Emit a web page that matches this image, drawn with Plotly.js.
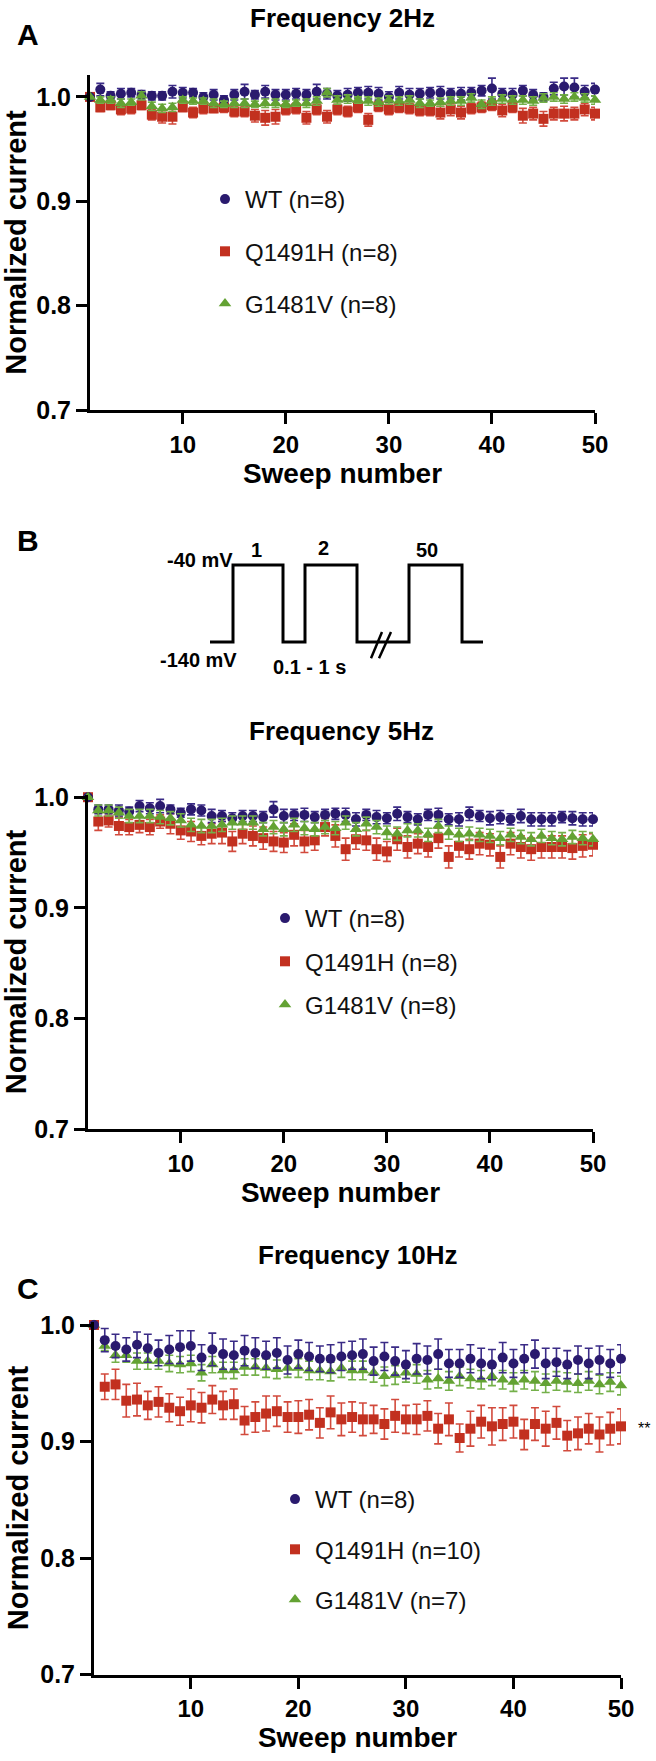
<!DOCTYPE html>
<html>
<head>
<meta charset="utf-8">
<script src="https://cdn.plot.ly/plotly-3.0.1.min.js"></script>
<style>html,body{margin:0;padding:0;background:#fff}#chart{width:656px;height:1761px}</style>
</head>
<body>
<div id="chart"></div>
<script>
// ---------- data ----------
const sweeps = Array.from({length: 50}, (_, i) => i + 1);
const xTicks = [10, 20, 30, 40, 50];
const yTicks = [0.7, 0.8, 0.9, 1.0];
const seriesNames = ['WT (n=8)', 'Q1491H (n=8)', 'G1481V (n=8)'];
const seriesNamesC = ['WT (n=8)', 'Q1491H (n=10)', 'G1481V (n=7)'];
const panelTitles = ['Frequency 2Hz', 'Frequency 5Hz', 'Frequency 10Hz'];

// Panel A : 2 Hz
const wtA = [1.000,1.007,1.001,1.003,1.004,1.002,1.001,1.001,1.005,1.004, 1.004,1.000,1.002,0.997,1.002,1.005,1.002,1.005,1.002,1.002,
             1.003,1.002,1.005,1.003,1.001,1.002,1.004,1.004,1.003,1.000, 1.004,1.002,1.003,1.004,1.004,1.003,1.003,1.004,1.006,1.008,
             1.003,1.002,1.006,1.002,1.000,1.008,1.010,1.009,1.005,1.007];
const wtAerr = [0,0.006,0.004,0.005,0.004,0.004,0.004,0.004,0.006,0.005, 0.004,0.004,0.005,0.004,0.005,0.007,0.004,0.006,0.005,0.005,
                0.005,0.005,0.007,0.005,0.005,0.006,0.005,0.006,0.006,0.005, 0.006,0.006,0.005,0.005,0.006,0.005,0.006,0.005,0.005,0.010,
                0.005,0.006,0.005,0.005,0.004,0.006,0.008,0.009,0.006,0.006];
const qA = [1.000,0.990,0.992,0.988,0.989,0.992,0.983,0.981,0.981,0.990, 0.985,0.989,0.989,0.990,0.986,0.986,0.982,0.980,0.981,0.988,
            0.989,0.980,0.988,0.981,0.988,0.986,0.990,0.978,0.991,0.988, 0.990,0.989,0.987,0.987,0.985,0.988,0.985,0.989,0.990,0.992,
            0.987,0.990,0.982,0.984,0.979,0.984,0.984,0.984,0.988,0.984];
const qAerr = [0,0.004,0.004,0.005,0.005,0.004,0.005,0.006,0.007,0.004, 0.005,0.005,0.004,0.005,0.005,0.005,0.006,0.007,0.007,0.005,
               0.005,0.006,0.005,0.006,0.005,0.005,0.005,0.006,0.005,0.005, 0.005,0.005,0.005,0.005,0.006,0.006,0.006,0.005,0.005,0.005,
               0.006,0.005,0.007,0.006,0.007,0.006,0.007,0.006,0.006,0.006];
const gA = [1.000,0.997,0.997,0.994,0.995,1.001,0.991,0.989,0.990,0.997, 0.996,0.996,0.994,0.993,0.994,0.994,0.993,0.994,0.994,0.993,
            0.994,0.994,0.996,1.004,0.997,0.998,0.997,0.996,0.995,0.997, 0.996,0.997,0.994,0.994,0.995,0.996,0.996,0.999,0.993,0.996,
            0.998,0.997,0.997,0.996,0.999,1.000,0.998,1.000,0.999,0.997];
const gAerr = [0,0.003,0.003,0.004,0.003,0.004,0.004,0.004,0.004,0.003, 0.003,0.003,0.004,0.003,0.004,0.004,0.003,0.004,0.004,0.003,
               0.003,0.004,0.004,0.004,0.004,0.004,0.003,0.004,0.004,0.004, 0.004,0.004,0.004,0.003,0.004,0.004,0.004,0.004,0.004,0.004,
               0.004,0.004,0.004,0.004,0.004,0.004,0.004,0.004,0.004,0.004];

// Panel B : 5 Hz
const wtB = [1.000,0.989,0.989,0.988,0.987,0.992,0.990,0.992,0.989,0.986, 0.989,0.988,0.983,0.983,0.981,0.983,0.983,0.982,0.989,0.983,
             0.984,0.984,0.982,0.984,0.985,0.984,0.980,0.984,0.982,0.981, 0.985,0.982,0.980,0.984,0.984,0.980,0.980,0.985,0.983,0.981,
             0.982,0.980,0.983,0.980,0.980,0.980,0.982,0.981,0.980,0.980];
const wtBerr = [0,0.004,0.004,0.005,0.004,0.005,0.005,0.006,0.004,0.004, 0.005,0.005,0.006,0.005,0.005,0.005,0.005,0.005,0.007,0.006,
                0.005,0.006,0.005,0.005,0.005,0.006,0.006,0.005,0.006,0.005, 0.006,0.005,0.005,0.005,0.006,0.005,0.006,0.006,0.005,0.006,
                0.006,0.005,0.006,0.006,0.006,0.006,0.005,0.006,0.006,0.006];
const qB = [1.000,0.978,0.979,0.974,0.973,0.975,0.973,0.978,0.976,0.970, 0.969,0.965,0.967,0.968,0.960,0.967,0.965,0.963,0.960,0.959,
            0.966,0.960,0.961,0.973,0.965,0.953,0.962,0.961,0.953,0.951, 0.962,0.955,0.958,0.955,0.963,0.946,0.956,0.953,0.958,0.957,
            0.946,0.958,0.955,0.953,0.955,0.955,0.955,0.954,0.956,0.957];
const qBerr = [0,0.008,0.006,0.008,0.007,0.007,0.007,0.006,0.009,0.008, 0.009,0.008,0.009,0.010,0.009,0.009,0.009,0.010,0.009,0.009,
               0.010,0.010,0.009,0.008,0.010,0.010,0.009,0.009,0.010,0.009, 0.010,0.010,0.009,0.009,0.009,0.010,0.010,0.009,0.010,0.010,
               0.010,0.010,0.010,0.010,0.010,0.010,0.010,0.010,0.010,0.010];
const gB = [1.000,0.988,0.988,0.986,0.983,0.983,0.983,0.982,0.981,0.979, 0.975,0.974,0.974,0.975,0.977,0.977,0.977,0.971,0.973,0.971,
            0.975,0.972,0.971,0.973,0.972,0.977,0.971,0.976,0.973,0.968, 0.967,0.970,0.970,0.966,0.974,0.968,0.966,0.967,0.966,0.965,
            0.963,0.966,0.964,0.962,0.965,0.963,0.962,0.964,0.963,0.962];
const gBerr = [0,0.005,0.005,0.005,0.006,0.006,0.006,0.006,0.006,0.006, 0.006,0.006,0.006,0.006,0.006,0.006,0.006,0.006,0.006,0.006,
               0.006,0.006,0.006,0.006,0.006,0.006,0.006,0.006,0.006,0.006, 0.006,0.006,0.006,0.006,0.006,0.006,0.006,0.006,0.006,0.006,
               0.006,0.006,0.006,0.006,0.006,0.006,0.006,0.006,0.006,0.006];

// Panel C : 10 Hz
const wtC = [1.000,0.987,0.982,0.979,0.983,0.980,0.976,0.979,0.981,0.982, 0.972,0.979,0.975,0.974,0.978,0.976,0.974,0.976,0.970,0.975,
             0.973,0.971,0.971,0.973,0.974,0.975,0.969,0.973,0.969,0.966, 0.971,0.970,0.975,0.967,0.967,0.971,0.967,0.966,0.972,0.967,
             0.971,0.975,0.967,0.968,0.966,0.970,0.967,0.970,0.967,0.971];
const wtCerr = [0,0.010,0.010,0.010,0.011,0.012,0.011,0.012,0.014,0.013, 0.011,0.014,0.013,0.012,0.013,0.013,0.012,0.013,0.012,0.012,
                0.012,0.011,0.012,0.012,0.012,0.013,0.012,0.012,0.012,0.012, 0.013,0.012,0.013,0.012,0.012,0.012,0.013,0.013,0.013,0.012,
                0.012,0.012,0.013,0.012,0.012,0.012,0.013,0.012,0.012,0.012];
const qC = [1.000,0.947,0.949,0.935,0.936,0.931,0.934,0.929,0.926,0.931, 0.929,0.936,0.931,0.932,0.918,0.921,0.924,0.926,0.921,0.921,
            0.923,0.916,0.925,0.919,0.921,0.919,0.919,0.915,0.922,0.919, 0.919,0.922,0.911,0.919,0.903,0.911,0.917,0.913,0.915,0.917,
            0.906,0.915,0.911,0.916,0.905,0.907,0.911,0.906,0.911,0.913];
const qCerr = [0,0.011,0.013,0.014,0.014,0.012,0.013,0.012,0.012,0.014, 0.013,0.012,0.012,0.013,0.012,0.013,0.015,0.013,0.013,0.014,
               0.013,0.013,0.014,0.014,0.013,0.014,0.012,0.013,0.014,0.012, 0.013,0.013,0.013,0.014,0.012,0.015,0.014,0.016,0.014,0.014,
               0.013,0.014,0.015,0.014,0.013,0.014,0.013,0.015,0.014,0.015];
const gC = [1.000,0.982,0.974,0.974,0.969,0.969,0.969,0.967,0.966,0.967, 0.959,0.966,0.961,0.961,0.964,0.964,0.963,0.962,0.963,0.963,
            0.961,0.961,0.960,0.963,0.961,0.961,0.959,0.956,0.957,0.959, 0.958,0.953,0.954,0.952,0.956,0.954,0.953,0.956,0.953,0.951,
            0.953,0.952,0.950,0.952,0.951,0.950,0.952,0.949,0.951,0.948];
const gCerr = [0,0.004,0.006,0.006,0.007,0.007,0.007,0.007,0.007,0.007, 0.007,0.007,0.007,0.007,0.007,0.007,0.008,0.008,0.008,0.008,
               0.008,0.008,0.008,0.008,0.008,0.008,0.008,0.008,0.008,0.008, 0.008,0.008,0.008,0.008,0.008,0.008,0.008,0.008,0.008,0.008,
               0.008,0.008,0.008,0.008,0.008,0.008,0.008,0.008,0.008,0.008];

// Protocol schematic (panel B)
const protoTime = [0, 23, 23, 73, 73, 95, 95, 147, 147, 199, 199, 252, 252, 273];
const protoVolt = [-140, -140, -40, -40, -140, -140, -40, -40, -140, -140, -40, -40, -140, -140];
const breakTime = [161, 172, null, 169, 181];
const breakVolt = [-161, -127, null, -161, -127];

// ---------- styling ----------
const FONT = 'Liberation Sans, Arial, Helvetica, sans-serif';
const W = 656, H = 1761;
const px = v => v / W;
const py = v => 1 - v / H;
const COL = {wt: '#2a1a6e', q: '#c2301f', g: '#63a233'};
const ECOL = {wt: '#3a2b86', q: '#d24a3c', g: '#74b04a'};

function series(x, y, err, key, name, sym, xa, ya, leg, rank) {
  return {
    type: 'scatter', mode: 'markers', x: x, y: y, name: name,
    xaxis: xa, yaxis: ya, legend: leg, legendgroup: leg + key, legendrank: rank,
    cliponaxis: false,
    marker: {symbol: sym, size: sym === 'triangle-up' ? 11 : 10, color: COL[key], line: {width: 0}},
    error_y: {type: 'data', array: err, visible: true, color: ECOL[key], thickness: 1.6, width: 4}
  };
}

const traces = [];
const panels = [
  {xa: 'x', ya: 'y', leg: 'legend', wt: [wtA, wtAerr], q: [qA, qAerr], g: [gA, gAerr], names: seriesNames, order: ['q', 'wt', 'g']},
  {xa: 'x2', ya: 'y2', leg: 'legend2', wt: [wtB, wtBerr], q: [qB, qBerr], g: [gB, gBerr], names: seriesNames, order: ['q', 'wt', 'g']},
  {xa: 'x3', ya: 'y3', leg: 'legend3', wt: [wtC, wtCerr], q: [qC, qCerr], g: [gC, gCerr], names: seriesNamesC, order: ['g', 'q', 'wt']}
];
const symOf = {wt: 'circle', q: 'square', g: 'triangle-up'};
const idxOf = {wt: 0, q: 1, g: 2};
panels.forEach(p => {
  p.order.forEach(k => {
    traces.push(series(sweeps, p[k][0], p[k][1], k, p.names[idxOf[k]], symOf[k], p.xa, p.ya, p.leg, idxOf[k] + 1));
  });
});

traces.push({type: 'scatter', mode: 'lines', x: protoTime, y: protoVolt, xaxis: 'x4', yaxis: 'y4',
  line: {color: '#000', width: 3, shape: 'linear'}, showlegend: false, hoverinfo: 'skip', cliponaxis: false});
traces.push({type: 'scatter', mode: 'lines', x: breakTime, y: breakVolt, xaxis: 'x4', yaxis: 'y4',
  line: {color: '#000', width: 2.5}, showlegend: false, hoverinfo: 'skip', cliponaxis: false});

function xAxis(d0, d1, anchor) {
  return {
    domain: [px(d0), px(d1)], range: [1, 50], anchor: anchor,
    tickvals: xTicks, ticks: 'outside', ticklen: 11, tickwidth: 3, tickcolor: '#000',
    showline: true, linewidth: 3, linecolor: '#000', showgrid: false, zeroline: false,
    tickfont: {family: FONT, size: 24, weight: 'bold', color: '#000'},
    title: {text: 'Sweep number', font: {family: FONT, size: 28, weight: 'bold', color: '#000'}, standoff: 6},
    automargin: false, fixedrange: true
  };
}
function yAxis(top, bottom, r1, anchor) {
  return {
    domain: [py(bottom), py(top)], range: [0.7, r1], anchor: anchor,
    tickvals: yTicks, tickformat: '.1f', ticks: 'outside', ticklen: 11, tickwidth: 3, tickcolor: '#000',
    showline: true, linewidth: 3, linecolor: '#000', showgrid: false, zeroline: false,
    tickfont: {family: FONT, size: 25, weight: 'bold', color: '#000'},
    title: {text: 'Normalized current', font: {family: FONT, size: 29, weight: 'bold', color: '#000'}, standoff: 4},
    automargin: false, fixedrange: true
  };
}
function legendAt(left, top, gap) {
  return {x: px(left), y: py(top), xanchor: 'left', yanchor: 'top', traceorder: 'grouped', tracegroupgap: gap,
    font: {family: FONT, size: 24, color: '#111'}, bgcolor: 'rgba(0,0,0,0)', borderwidth: 0, itemsizing: 'trace'};
}
function label(text, x, y, size, bold, extra) {
  return Object.assign({text: text, x: px(x), y: py(y), xref: 'paper', yref: 'paper', showarrow: false,
    xanchor: 'center', yanchor: 'middle',
    font: {family: FONT, size: size, color: '#000', weight: bold ? 'bold' : 'normal'}}, extra || {});
}
function protoLabel(text, t, v, xanchor) {
  return {text: text, x: t, y: v, xref: 'x4', yref: 'y4', showarrow: false, xanchor: xanchor, yanchor: 'middle',
    font: {family: FONT, size: 20, color: '#000', weight: 'bold'}};
}

const layout = {
  width: W, height: H, margin: {l: 0, r: 0, t: 0, b: 0},
  paper_bgcolor: '#fff', plot_bgcolor: 'rgba(0,0,0,0)',
  showlegend: true,
  xaxis: xAxis(90, 595, 'y'),
  yaxis: yAxis(75, 410, 1.021, 'x'),
  xaxis2: xAxis(88, 593, 'y2'),
  yaxis2: yAxis(795, 1129, 1.002, 'x2'),
  xaxis3: xAxis(94, 621, 'y3'),
  yaxis3: yAxis(1321.5, 1674.5, 1.003, 'x3'),
  // protocol axes: 1 time unit = 1 px, 0.77 px per mV
  xaxis4: {domain: [px(170), px(500)], range: [-40, 290], anchor: 'y4', visible: false, fixedrange: true},
  yaxis4: {domain: [py(676.65), py(541.9)], range: [-185, -10], anchor: 'x4', visible: false, fixedrange: true},
  legend: legendAt(205, 177, 18),
  legend2: legendAt(265, 896, 9),
  legend3: legendAt(275, 1477, 16),
  annotations: [
    label(panelTitles[0], 342, 18, 26, true),
    label(panelTitles[1], 341, 731, 26, true),
    label(panelTitles[2], 357, 1255, 26, true),
    label('A', 28, 34, 30, true),
    label('B', 28, 540, 30, true),
    label('C', 28, 1288, 30, true),
    label('**', 644, 1428, 16, false),
    protoLabel('-40 mV', 25, -33.5, 'right'),
    protoLabel('1', 46, -20.5, 'center'),
    protoLabel('2', 113, -18, 'center'),
    protoLabel('50', 217, -20.5, 'center'),
    protoLabel('-140 mV', -12, -163, 'center'),
    protoLabel('0.1 - 1 s', 99, -172, 'center')
  ]
};

Plotly.newPlot('chart', traces, layout, {displayModeBar: false, staticPlot: true});
</script>
</body>
</html>
